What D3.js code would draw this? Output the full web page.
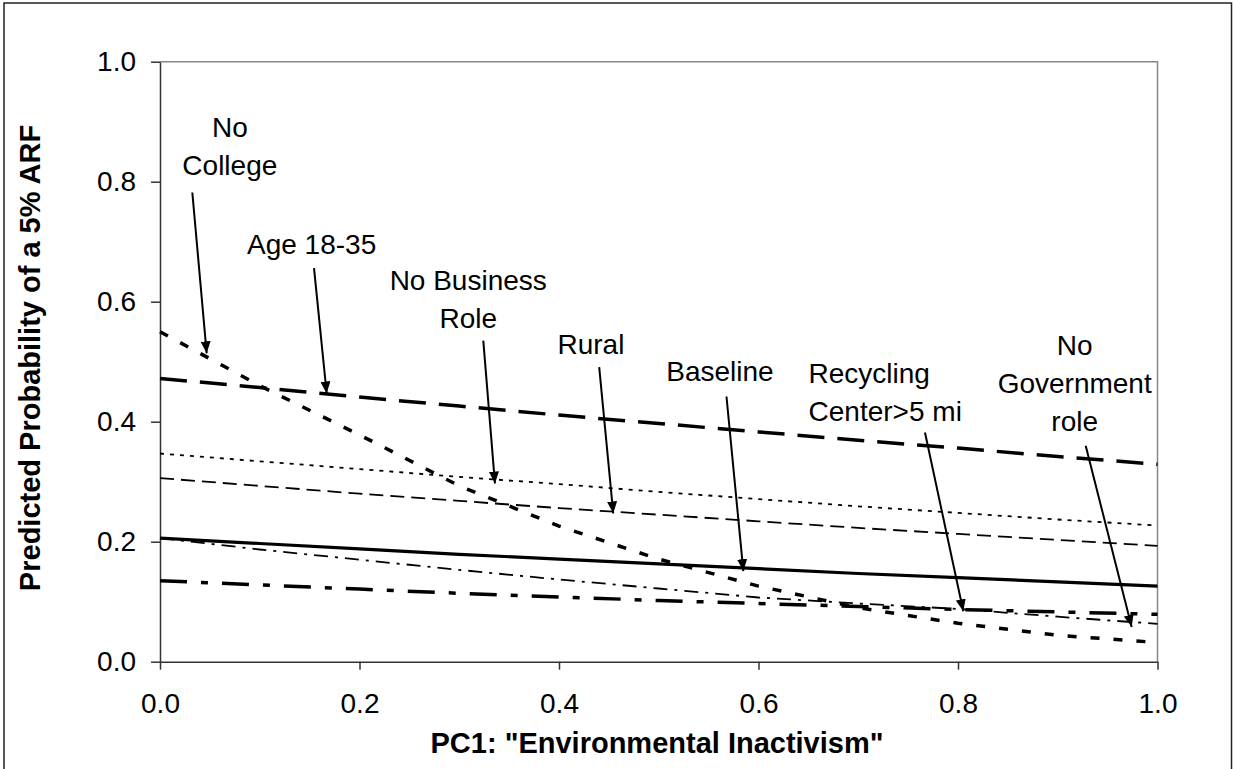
<!DOCTYPE html>
<html>
<head>
<meta charset="utf-8">
<script src="https://cdn.jsdelivr.net/npm/d3@7/dist/d3.min.js"></script>
<style>
  body { margin: 0; background: #fff; }
  svg text { font-family: "Liberation Sans", Arial, sans-serif; fill: #000; }
</style>
</head>
<body>
<div id="chart"></div>
<script>
// PC1 values where each curve was evaluated
const pc1 = [0, 0.1, 0.2, 0.3, 0.4, 0.5, 0.6, 0.7, 0.8, 0.9, 1.0];

// predicted probabilities
const ageYoung = [0.472, 0.457, 0.441, 0.426, 0.411, 0.397, 0.383, 0.369, 0.356, 0.342, 0.329];
const noCollege = [0.55, 0.46, 0.378, 0.293, 0.226, 0.171, 0.126, 0.09, 0.064, 0.044, 0.032];
const noBusiness = [0.347, 0.334, 0.321, 0.308, 0.296, 0.283, 0.271, 0.259, 0.248, 0.237, 0.227];
const rural = [0.306, 0.293, 0.28, 0.268, 0.256, 0.245, 0.234, 0.223, 0.213, 0.203, 0.193];
const baseline = [0.206, 0.197, 0.188, 0.179, 0.171, 0.163, 0.155, 0.147, 0.14, 0.133, 0.126];
const recycling = [0.135, 0.128, 0.121, 0.114, 0.108, 0.102, 0.097, 0.092, 0.087, 0.083, 0.079];
const noGovernment = [0.206, 0.187, 0.17, 0.153, 0.137, 0.122, 0.107, 0.097, 0.088, 0.075, 0.063];

const xTicks = [0, 0.2, 0.4, 0.6, 0.8, 1.0];
const yTicks = [0, 0.2, 0.4, 0.6, 0.8, 1.0];

const xTitle = 'PC1: "Environmental Inactivism"';
const yTitle = "Predicted Probability of a 5% ARF";

// line styles for each curve
const series = [
  { values: ageYoung, width: 3.5, dash: "27,13" },
  { values: noCollege, width: 3.5, dash: "9,14" },
  { values: noBusiness, width: 1.8, dash: "4,6" },
  { values: rural, width: 1.8, dash: "14,7" },
  { values: baseline, width: 3.2, dash: null },
  { values: recycling, width: 3.5, dash: "27,14,7,14" },
  { values: noGovernment, width: 1.8, dash: "14,7,3,7" }
];

// callout labels: text lines, text anchor (data units), arrow from -> to (data units)
const notes = [
  { lines: ["No", "College"], tx: 0.07, ty: 0.875, anchor: "middle", from: [0.0324, 0.782], to: [0.0468, 0.514] },
  { lines: ["Age 18-35"], tx: 0.152, ty: 0.679, anchor: "middle", from: [0.1544, 0.656], to: [0.1671, 0.447] },
  { lines: ["No Business", "Role"], tx: 0.309, ty: 0.62, anchor: "middle", from: [0.3241, 0.535], to: [0.3358, 0.297] },
  { lines: ["Rural"], tx: 0.432, ty: 0.513, anchor: "middle", from: [0.4403, 0.491], to: [0.4544, 0.247] },
  { lines: ["Baseline"], tx: 0.5614, ty: 0.467, anchor: "middle", from: [0.5679, 0.442], to: [0.5848, 0.151] },
  { lines: ["Recycling", "Center>5 mi"], tx: 0.6502, ty: 0.465, anchor: "start", from: [0.7669, 0.382], to: [0.8053, 0.084] },
  { lines: ["No", "Government", "role"], tx: 0.917, ty: 0.511, anchor: "middle", from: [0.928, 0.36], to: [0.9741, 0.058] }
];

const W = 1233, H = 769;
const margin = { top: 61.7, right: 75.5, bottom: 107.3, left: 160 };
const width = W - margin.left - margin.right;
const height = H - margin.top - margin.bottom;

const svg = d3.select("#chart")
  .append("svg")
  .attr("width", W)
  .attr("height", H);

// outer chart frame
svg.append("rect")
  .attr("x", 4).attr("y", 3)
  .attr("width", 1227.5).attr("height", 800)
  .attr("fill", "none")
  .attr("stroke", "#222")
  .attr("stroke-width", 1.5);

const g = svg.append("g")
  .attr("transform", "translate(" + margin.left + "," + margin.top + ")");

const x = d3.scaleLinear().domain([0, 1]).range([0, width]);
const y = d3.scaleLinear().domain([0, 1]).range([height, 0]);

// plot area border (top and right)
g.append("path")
  .attr("d", "M0,0H" + width + "V" + height)
  .attr("fill", "none")
  .attr("stroke", "#888")
  .attr("stroke-width", 1.5);

const xAxis = d3.axisBottom(x)
  .tickValues(xTicks)
  .tickFormat(d3.format(".1f"))
  .tickSizeInner(8)
  .tickSizeOuter(0)
  .tickPadding(23);

const yAxis = d3.axisLeft(y)
  .tickValues(yTicks)
  .tickFormat(d3.format(".1f"))
  .tickSizeInner(9)
  .tickSizeOuter(0)
  .tickPadding(15);

const gx = g.append("g")
  .attr("transform", "translate(0," + height + ")")
  .call(xAxis);

const gy = g.append("g").call(yAxis);

[gx, gy].forEach(function (a) {
  a.selectAll("path, line").attr("stroke", "#333").attr("stroke-width", 1.5);
  a.selectAll("text")
    .style("font-family", '"Liberation Sans", Arial, sans-serif')
    .style("font-size", "28px")
    .attr("fill", "#000");
});

// axis titles
svg.append("text")
  .attr("x", 657)
  .attr("y", 753)
  .attr("text-anchor", "middle")
  .style("font-weight", "bold")
  .style("font-size", "29px")
  .text(xTitle);

svg.append("text")
  .attr("transform", "rotate(-90)")
  .attr("x", -358)
  .attr("y", 40)
  .attr("text-anchor", "middle")
  .style("font-weight", "bold")
  .style("font-size", "29px")
  .text(yTitle);

// curves
const line = d3.line()
  .x(function (d, i) { return x(pc1[i]); })
  .y(function (d) { return y(d); });

g.selectAll(".curve")
  .data(series)
  .enter()
  .append("path")
  .attr("class", "curve")
  .attr("fill", "none")
  .attr("stroke", "#000")
  .attr("stroke-width", function (d) { return d.width; })
  .attr("stroke-dasharray", function (d) { return d.dash; })
  .attr("d", function (d) { return line(d.values); });

// arrow head
svg.append("defs")
  .append("marker")
  .attr("id", "head")
  .attr("markerUnits", "userSpaceOnUse")
  .attr("viewBox", "0 0 12 10")
  .attr("refX", 12)
  .attr("refY", 5)
  .attr("markerWidth", 12)
  .attr("markerHeight", 10)
  .attr("orient", "auto")
  .append("path")
  .attr("d", "M0,0L12,5L0,10Z")
  .attr("fill", "#000");

const note = g.selectAll(".note")
  .data(notes)
  .enter()
  .append("g")
  .attr("class", "note");

note.append("line")
  .attr("x1", function (d) { return x(d.from[0]); })
  .attr("y1", function (d) { return y(d.from[1]); })
  .attr("x2", function (d) { return x(d.to[0]); })
  .attr("y2", function (d) { return y(d.to[1]); })
  .attr("stroke", "#000")
  .attr("stroke-width", 2)
  .attr("marker-end", "url(#head)");

note.append("text")
  .attr("text-anchor", function (d) { return d.anchor; })
  .style("font-size", "28px")
  .each(function (d) {
    const t = d3.select(this);
    d.lines.forEach(function (s, i) {
      t.append("tspan")
        .attr("x", x(d.tx))
        .attr("y", y(d.ty) + i * 38)
        .text(s);
    });
  });
</script>
</body>
</html>
